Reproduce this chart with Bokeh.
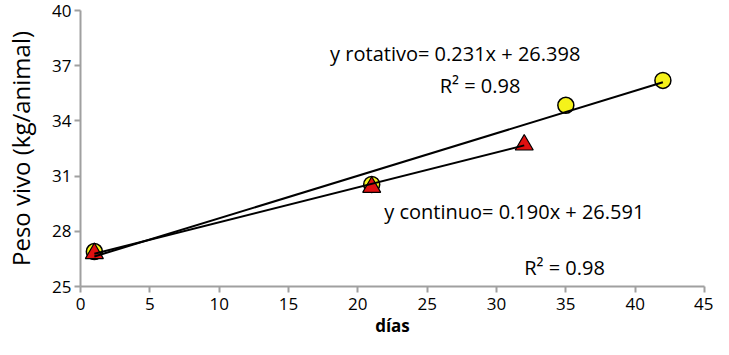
from bokeh.plotting import figure
from bokeh.models import Range1d, FixedTicker, Label
from bokeh.embed import file_html
from bokeh.resources import INLINE

# data
dias_rotativo = [1, 21, 35, 42]
peso_rotativo = [26.9, 30.55, 34.85, 36.2]
dias_continuo = [1, 21, 32]
peso_continuo = [26.8, 30.4, 32.7]

fit_rotativo = (0.231, 26.398)
fit_continuo = (0.190, 26.591)

x_ticks = [0, 5, 10, 15, 20, 25, 30, 35, 40, 45]
y_ticks = [25, 28, 31, 34, 37, 40]

eq_rotativo = "y rotativo= 0.231x + 26.398"
eq_continuo = "y continuo= 0.190x + 26.591"
r2_text = "R² = 0.98"

FONT = "Open Sans"

p = figure(width=713, height=339, output_backend="svg", toolbar_location=None,
           x_range=Range1d(0, 45), y_range=Range1d(25, 40))
p.min_border_left = 80
p.min_border_right = 9
p.min_border_top = 10
p.min_border_bottom = 52
p.outline_line_color = None
p.xgrid.visible = False
p.ygrid.visible = False
p.background_fill_color = "white"
p.border_fill_color = "white"

for ax in (p.xaxis[0], p.yaxis[0]):
    ax.axis_line_color = "#a0a0a0"
    ax.axis_line_width = 2
    ax.major_tick_line_color = "#a0a0a0"
    ax.major_tick_line_width = 2
    ax.major_tick_in = 0
    ax.major_tick_out = 6
    ax.minor_tick_line_color = None
    ax.major_label_text_font = FONT
    ax.major_label_text_font_size = "17px"
    ax.major_label_text_color = "black"
    ax.axis_label_text_font = FONT
    ax.axis_label_text_color = "black"

p.xaxis.ticker = FixedTicker(ticks=x_ticks)
p.yaxis.ticker = FixedTicker(ticks=y_ticks)
p.xaxis.axis_label = "días"
p.xaxis.axis_label_text_font_style = "bold"
p.xaxis.axis_label_text_font_size = "17px"
p.xaxis.major_label_standoff = 5
p.xaxis.axis_label_standoff = 1
p.yaxis.axis_label = "Peso vivo (kg/animal)"
p.yaxis.axis_label_text_font_style = "normal"
p.yaxis.axis_label_text_font_size = "24px"
p.yaxis.major_label_standoff = 3
p.yaxis.axis_label_standoff = 12

# markers
p.scatter(dias_rotativo, peso_rotativo, marker="circle", size=16,
          fill_color="#f5f21a", line_color="black", line_width=1.5)
p.scatter(dias_continuo, peso_continuo, marker="triangle", size=18,
          fill_color="#e01010", line_color="black", line_width=1.2)

# trend lines from the fitted equations
def fit_line(xs, fit):
    x0, x1 = min(xs), max(xs)
    m, b = fit
    return [x0, x1], [m * x0 + b, m * x1 + b]

lx, ly = fit_line(dias_rotativo, fit_rotativo)
p.line(lx, ly, line_color="black", line_width=2)
lx, ly = fit_line(dias_continuo, fit_continuo)
p.line(lx, ly, line_color="black", line_width=2)

# annotations
def add_label(x, y, text):
    p.add_layout(Label(x=x, y=y, text=text, text_font=FONT, text_font_size="20px",
                       text_color="black", text_baseline="middle", text_align="left"))

add_label(18.0, 37.65, eq_rotativo)
add_label(25.9, 35.9, r2_text)
add_label(21.9, 29.1, eq_continuo)
add_label(32.0, 26.05, r2_text)

open("out.html", "w").write(file_html(p, INLINE))
